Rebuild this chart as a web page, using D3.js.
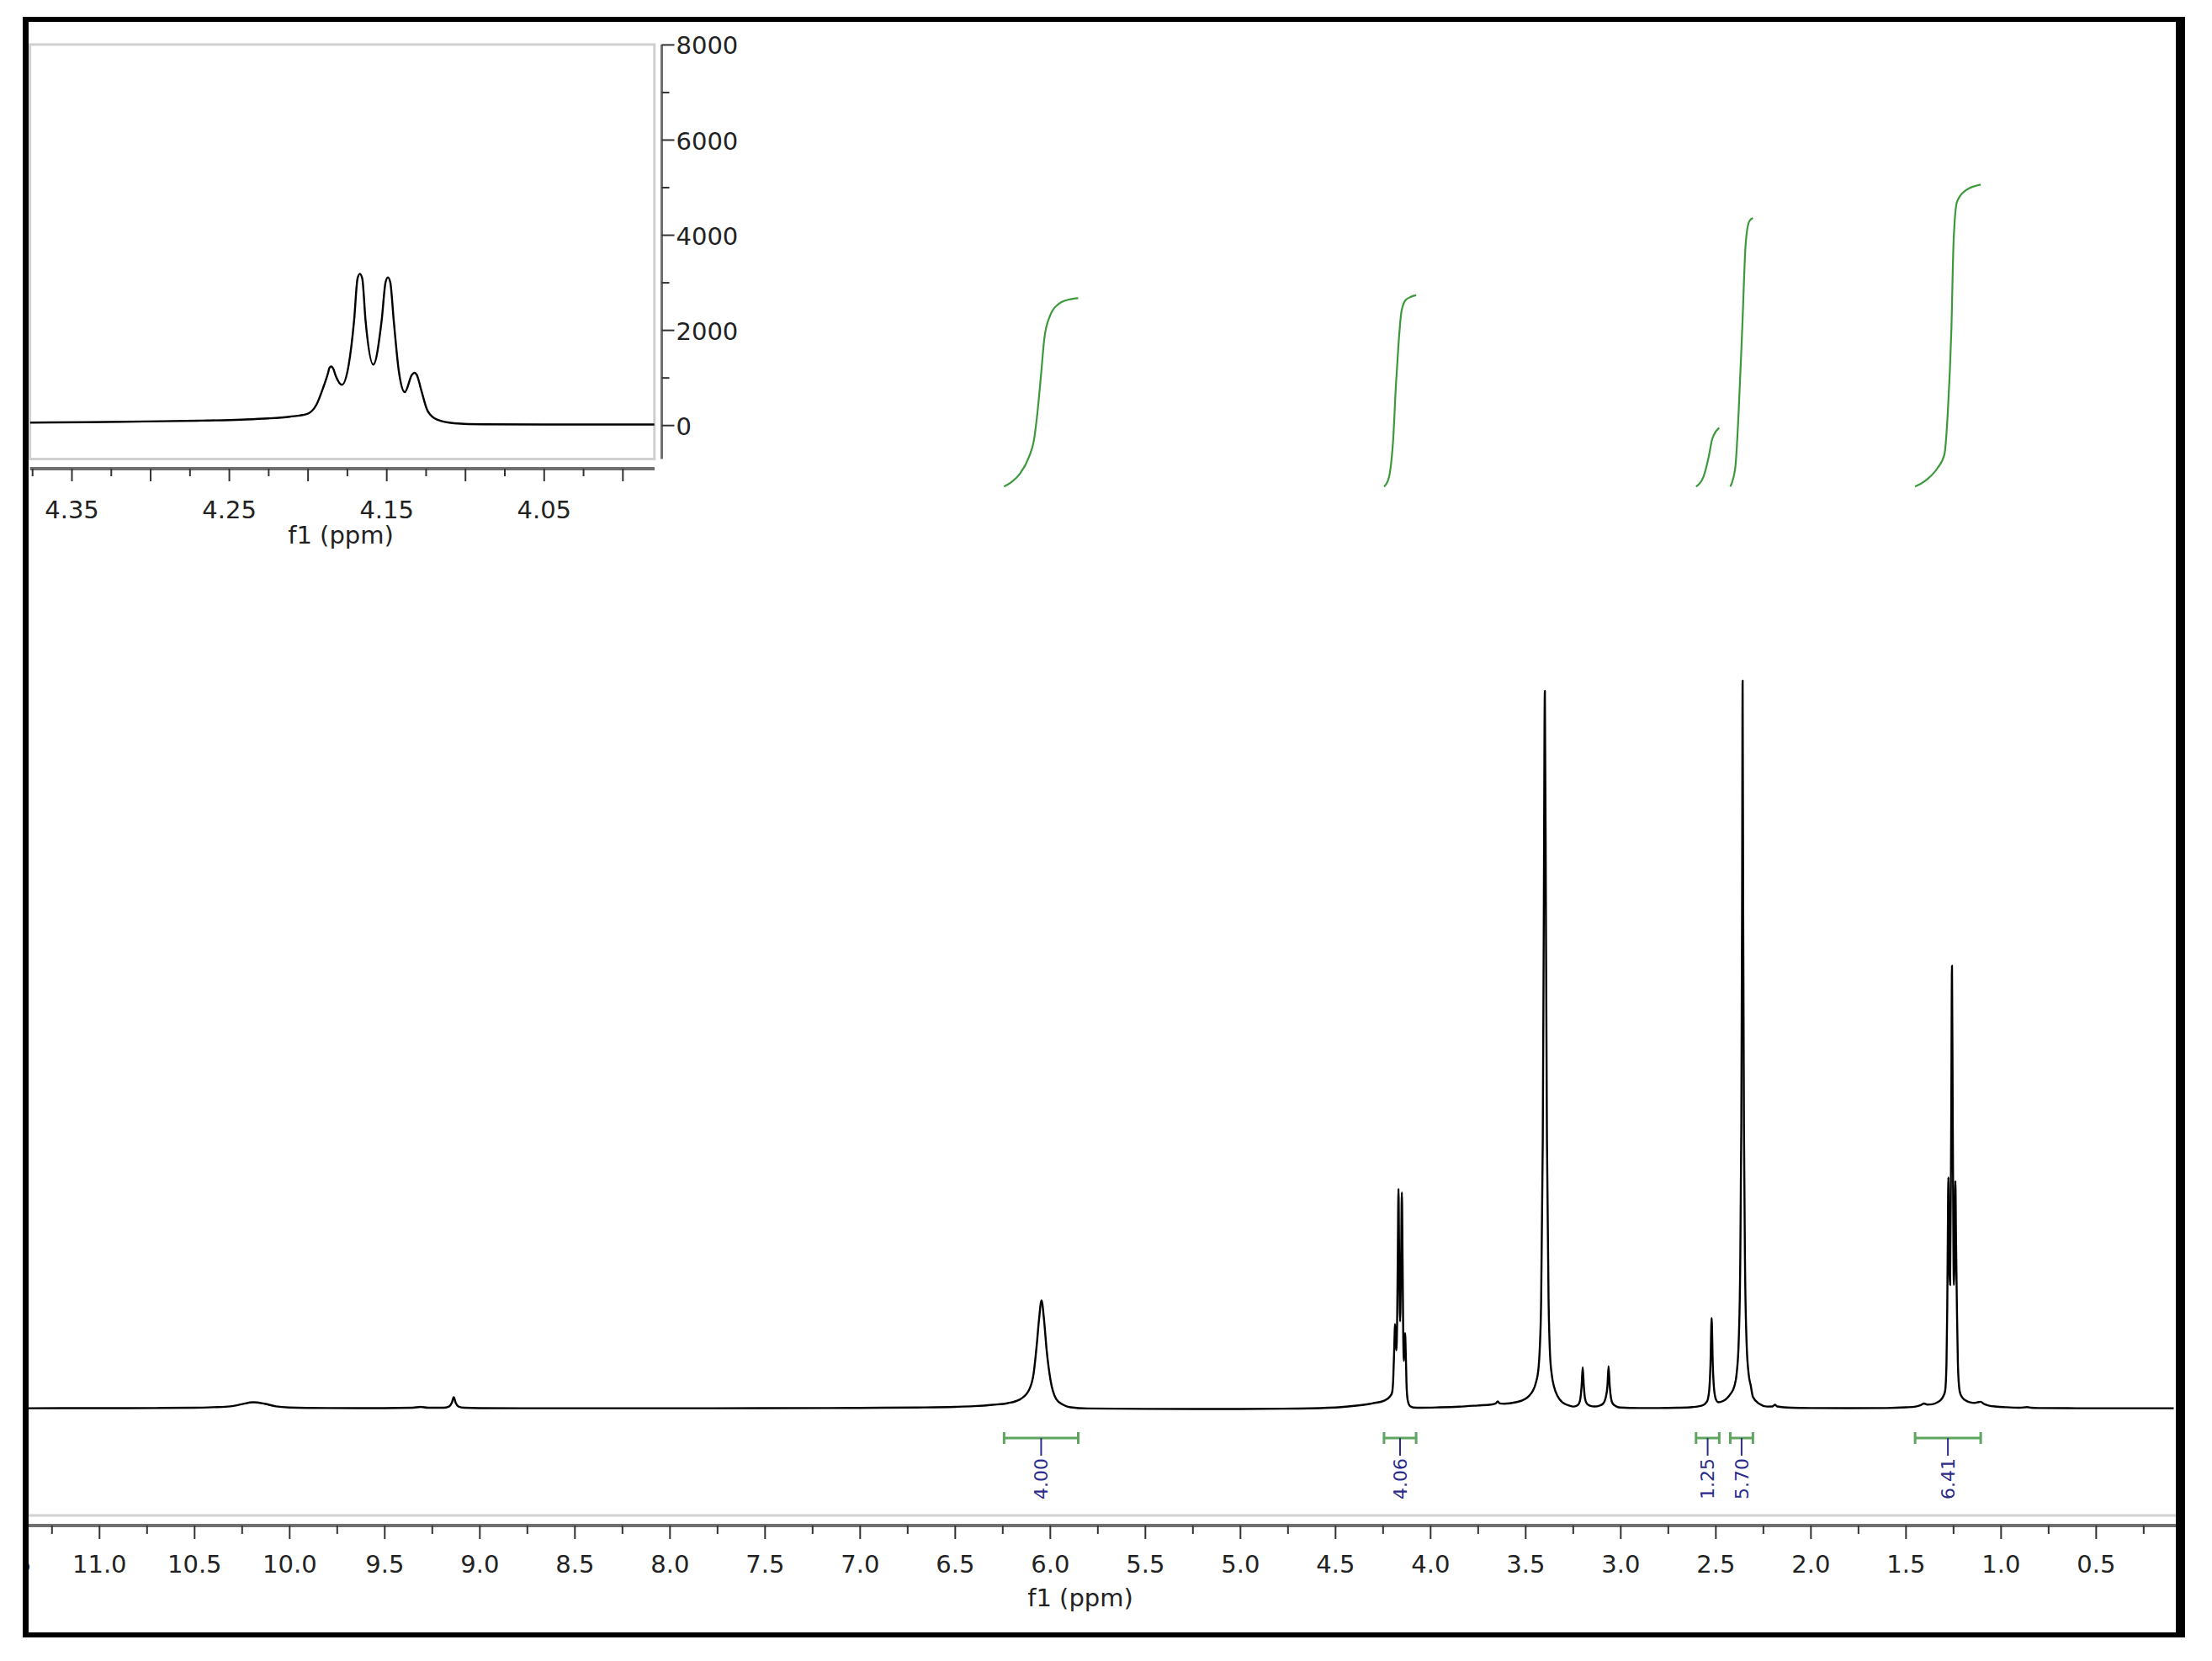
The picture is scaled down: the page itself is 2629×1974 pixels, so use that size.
<!DOCTYPE html>
<html><head><meta charset="utf-8">
<script src="https://cdn.jsdelivr.net/npm/d3@7"></script>
<style>
html,body{margin:0;padding:0;background:#fff;}
svg{display:block;}
</style></head><body>
<svg id="chart" width="2629" height="1974"></svg>
<script>
// ---------------- DATA ----------------
// Main 1H spectrum: [ppm, intensity]
const mainSpectrum = [
[11.38,5],[11.0,6],[10.7,8],[10.5,12],[10.40,20],[10.31,32],[10.25,62],[10.19,92],[10.13,70],[10.07,32],[10.0,16],
[9.8,8],[9.5,6],[9.35,12],[9.31,24],[9.27,12],[9.19,12],[9.16,30],[9.145,85],[9.135,165],[9.125,85],[9.11,30],[9.08,12],[9.0,6],
[8.5,4],[8.0,4],[7.5,6],[7.0,10],[6.7,16],[6.5,25],[6.40,35],[6.30,55],[6.22,80],[6.16,130],[6.11,270],[6.085,520],
[6.069,930],[6.057,1300],[6.044,1575],[6.031,1300],[6.017,850],[5.997,420],[5.967,140],[5.93,55],[5.89,18],[5.80,2],
[5.5,-5],[5.0,-6],[4.7,0],[4.5,15],[4.40,40],[4.32,68],
[4.30,78],[4.242,115],[4.211,177],[4.2006,231],[4.1945,423],[4.1899,808],[4.187,1100],[4.185,1233],[4.1822,1039],
[4.1782,847],[4.1739,1270],[4.1705,2195],[4.1668,3200],[4.1632,2195],[4.1583,1270],[4.153,2195],[4.149,3150],
[4.1453,2195],[4.142,1117],[4.1383,693],[4.1322,1101],[4.1278,732],[4.1239,307],[4.1178,115],[4.107,39],[4.0886,16],
[4.05,12],[3.95,18],[3.85,28],[3.75,45],[3.68,58],[3.655,75],[3.645,105],[3.635,75],[3.61,70],[3.55,92],[3.50,140],
[3.48,186],[3.46,260],[3.445,368],[3.43,600],[3.424,860],[3.417,1500],[3.408,3900],[3.403,6900],[3.397,10450],
[3.391,6900],[3.386,3900],[3.377,1500],[3.370,800],[3.360,480],[3.35,331],[3.33,180],[3.306,92],[3.27,45],[3.247,29],
[3.23,40],[3.218,70],[3.210,150],[3.204,320],[3.198,600],[3.192,320],[3.186,150],[3.176,70],[3.16,42],[3.135,30],
[3.11,42],[3.09,75],[3.078,150],[3.068,330],[3.062,616],[3.056,330],[3.049,150],[3.040,70],[3.02,30],[3.0,15],
[2.9,8],[2.8,8],[2.7,12],[2.62,22],[2.57,45],[2.545,100],[2.533,260],[2.526,650],[2.520,1320],[2.514,650],[2.507,280],
[2.497,130],[2.485,92],[2.46,110],[2.44,150],[2.42,215],[2.40,330],[2.388,520],[2.378,950],[2.370,2000],[2.364,4100],
[2.360,7200],[2.357,10600],[2.354,7200],[2.350,4100],[2.344,2000],[2.336,950],[2.326,520],[2.314,330],[2.303,172],
[2.27,70],[2.229,29],[2.20,30],[2.187,55],[2.175,30],[2.10,12],[2.0,8],[1.8,6],[1.6,8],[1.50,18],[1.447,29],
[1.42,50],[1.403,73],[1.385,58],[1.359,63],[1.33,95],[1.315,125],[1.300,190],[1.292,260],[1.285,657],[1.281,1455],
[1.278,2500],[1.275,3368],[1.272,2500],[1.266,1800],[1.260,4200],[1.256,6450],[1.252,4200],[1.246,1800],[1.241,2500],
[1.238,3314],[1.235,2500],[1.230,1455],[1.225,657],[1.218,300],[1.211,206],[1.195,140],[1.182,115],[1.16,90],
[1.138,83],[1.115,95],[1.105,99],[1.09,70],[1.064,45],[1.02,28],[0.976,20],[0.90,12],[0.86,22],[0.84,12],[0.8,8],
[0.6,5],[0.3,4],[0.09,4]
];

// Inset (4.38 - 3.98 ppm) spectrum: [ppm, intensity]
const insetSpectrum = [
[4.3764,53],[4.34,62],[4.3034,77],[4.27,92],[4.242,115],[4.225,140],[4.2114,177],[4.2006,231],[4.1945,423],
[4.1899,808],[4.1870,1100],[4.1862,1200],[4.185,1233],[4.1838,1190],[4.1822,1039],[4.1782,847],[4.1739,1270],
[4.1705,2195],[4.1683,3080],[4.1668,3181],[4.1653,3080],[4.1632,2195],[4.1583,1270],[4.1530,2195],[4.1505,3000],
[4.149,3105],[4.1475,3000],[4.1453,2195],[4.142,1117],[4.1383,693],[4.1337,1060],[4.1322,1101],[4.1307,1060],
[4.1278,732],[4.1239,307],[4.1178,115],[4.107,39],[4.0886,16],[4.05,12],[3.9797,12]
];

// Integral curves: [ppm, cumulative integral]
const integral1 = [[6.241,0],[6.20,0.10],[6.158,0.27],[6.11,0.63],[6.084,0.98],[6.066,1.55],[6.047,2.35],[6.029,3.15],[6.00,3.62],[5.956,3.87],[5.90,3.97],[5.851,4.00]];
const integral2 = [[4.243,0],[4.225,0.10],[4.213,0.27],[4.195,0.98],[4.180,2.17],[4.166,3.06],[4.151,3.72],[4.129,3.96],[4.100,4.03],[4.074,4.06]];
const integral3 = [[2.602,0],[2.563,0.21],[2.533,0.68],[2.519,0.98],[2.508,1.10],[2.480,1.25]];
const integral4 = [[2.422,0],[2.396,0.39],[2.378,1.58],[2.359,3.36],[2.341,5.15],[2.322,5.63],[2.303,5.70]];
const integral5 = [[1.450,0],[1.388,0.15],[1.333,0.39],[1.296,0.68],[1.278,1.58],[1.259,3.36],[1.248,5.15],[1.230,6.04],[1.186,6.28],[1.105,6.41]];

// Integral region labels
const integralLabels = ["4.00","4.06","1.25","5.70","6.41"];
const integralFrom = [6.241, 4.243, 2.602, 2.422, 1.450];
const integralTo   = [5.851, 4.074, 2.480, 2.303, 1.105];

// Tick labels
const mainTickLabels = ["11.5","11.0","10.5","10.0","9.5","9.0","8.5","8.0","7.5","7.0","6.5","6.0","5.5","5.0","4.5","4.0","3.5","3.0","2.5","2.0","1.5","1.0","0.5"];
const insetXTickLabels = ["4.35","4.25","4.15","4.05"];
const insetYTickLabels = ["0","2000","4000","6000","8000"];
const axisTitle = "f1 (ppm)";

// ---------------- DRAWING ----------------
const W = 2629, H = 1974;
const FONT = "'DejaVu Sans', Verdana, sans-serif";
const svg = d3.select("#chart");
svg.append("rect").attr("width", W).attr("height", H).attr("fill", "#fff");

const defs = svg.append("defs");
defs.append("clipPath").attr("id", "clipMain").append("rect")
  .attr("x", 34).attr("y", 26).attr("width", 2552).attr("height", 1914);
defs.append("clipPath").attr("id", "clipInset").append("rect")
  .attr("x", 35.6).attr("y", 52.9).attr("width", 742.2).attr("height", 492.6);

// main scales
const x = d3.scaleLinear().domain([11.38, 0.09]).range([31.9, 2583.5]);
const y = d3.scaleLinear().domain([0, 20000]).range([1674, 1674 - 20000 * 0.0816]);
const yInt = d3.scaleLinear().domain([0, 8]).range([578.3, 578.3 - 8 * 56]);

// main plot box bottom line
svg.append("line").attr("x1", 34).attr("x2", 2586).attr("y1", 1801).attr("y2", 1801)
  .attr("stroke", "#d2d2d2").attr("stroke-width", 3);

// main spectrum
const gMain = svg.append("g").attr("clip-path", "url(#clipMain)");
gMain.append("path").datum(mainSpectrum)
  .attr("d", d3.line().x(d => x(d[0])).y(d => y(d[1])).curve(d3.curveMonotoneX))
  .attr("fill", "none").attr("stroke", "#000").attr("stroke-width", 2.4).attr("stroke-linejoin", "round");

// integral curves
const intLine = d3.line().x(d => x(d[0])).y(d => yInt(d[1])).curve(d3.curveMonotoneX);
[integral1, integral2, integral3, integral4, integral5].forEach(arr => {
  gMain.append("path").datum(arr).attr("d", intLine)
    .attr("fill", "none").attr("stroke", "#3c9a3c").attr("stroke-width", 2.2);
});

// integral bars + labels
const barY = 1709;
integralLabels.forEach((lab, i) => {
  const x1 = x(integralFrom[i]), x2 = x(integralTo[i]);
  const cx = x((integralFrom[i] + integralTo[i]) / 2);
  const g = gMain.append("g");
  g.append("line").attr("x1", x1).attr("x2", x2).attr("y1", barY).attr("y2", barY)
    .attr("stroke", "#5fa55f").attr("stroke-width", 3);
  [x1, x2].forEach(xx => g.append("line").attr("x1", xx).attr("x2", xx)
    .attr("y1", barY - 7).attr("y2", barY + 7).attr("stroke", "#5fa55f").attr("stroke-width", 3));
  g.append("line").attr("x1", cx).attr("x2", cx).attr("y1", barY).attr("y2", barY + 21)
    .attr("stroke", "#2c2c8c").attr("stroke-width", 2);
  g.append("text").text(lab)
    .attr("transform", `translate(${cx},${barY + 24}) rotate(-90)`)
    .attr("text-anchor", "end").attr("dy", "0.36em")
    .attr("font-family", FONT).attr("font-size", 22).attr("fill", "#2c2c8c");
});

// main x axis
const axisY = 1813;
const gAx = svg.append("g").attr("clip-path", "url(#clipMain)");
gAx.append("line").attr("x1", 32).attr("x2", 2586).attr("y1", axisY).attr("y2", axisY)
  .attr("stroke", "#6f6f6f").attr("stroke-width", 4);
const majorVals = mainTickLabels.map(Number);
const minorVals = majorVals.map(v => v - 0.25).filter(v => v > 0.09 && v < 11.38);
gAx.append("g").attr("transform", `translate(0,${axisY})`)
  .call(d3.axisBottom(x).tickValues(minorVals).tickSize(10).tickFormat(""))
  .call(g => g.select(".domain").remove())
  .call(g => g.selectAll(".tick line").attr("stroke", "#333").attr("stroke-width", 2));
gAx.append("g").attr("transform", `translate(0,${axisY})`)
  .call(d3.axisBottom(x).tickValues(majorVals).tickSize(16).tickFormat((d, i) => mainTickLabels[i]))
  .call(g => g.select(".domain").remove())
  .call(g => g.selectAll(".tick line").attr("stroke", "#333").attr("stroke-width", 2))
  .call(g => g.selectAll(".tick text").attr("y", 56).attr("dy", 0)
    .attr("font-family", FONT).attr("font-size", 29).attr("fill", "#222"));
svg.append("text").text(axisTitle).attr("x", 1284).attr("y", 1909)
  .attr("text-anchor", "middle").attr("font-family", FONT).attr("font-size", 29).attr("fill", "#222");

// ---------------- INSET ----------------
const xi = d3.scaleLinear().domain([4.3764, 3.9797]).range([35.6, 777.8]);
const yi = d3.scaleLinear().domain([0, 8000]).range([505.2, 52.9]);

svg.append("rect").attr("x", 35.6).attr("y", 52.9).attr("width", 742.2).attr("height", 492.6)
  .attr("fill", "#fff").attr("stroke", "#cfcfcf").attr("stroke-width", 3);

svg.append("g").attr("clip-path", "url(#clipInset)")
  .append("path").datum(insetSpectrum)
  .attr("d", d3.line().x(d => xi(d[0])).y(d => yi(d[1])).curve(d3.curveMonotoneX))
  .attr("fill", "none").attr("stroke", "#000").attr("stroke-width", 2.4).attr("stroke-linejoin", "round");

// inset x axis
const iAxY = 557;
svg.append("line").attr("x1", 35.6).attr("x2", 778).attr("y1", iAxY).attr("y2", iAxY)
  .attr("stroke", "#6f6f6f").attr("stroke-width", 4);
const insetX = insetXTickLabels.map(Number);
const insetXLong = [4.35, 4.30, 4.25, 4.20, 4.15, 4.10, 4.05, 4.00];
const insetXShort = insetXLong.map(v => v + 0.025);
svg.append("g").attr("transform", `translate(0,${iAxY})`)
  .call(d3.axisBottom(xi).tickValues(insetXShort).tickSize(9).tickFormat(""))
  .call(g => g.select(".domain").remove())
  .call(g => g.selectAll(".tick line").attr("stroke", "#333").attr("stroke-width", 2));
svg.append("g").attr("transform", `translate(0,${iAxY})`)
  .call(d3.axisBottom(xi).tickValues(insetXLong).tickSize(15).tickFormat(""))
  .call(g => g.select(".domain").remove())
  .call(g => g.selectAll(".tick line").attr("stroke", "#333").attr("stroke-width", 2));
svg.append("g").attr("transform", `translate(0,${iAxY})`)
  .call(d3.axisBottom(xi).tickValues(insetX).tickSize(0).tickFormat((d, i) => insetXTickLabels[i]))
  .call(g => g.select(".domain").remove())
  .call(g => g.selectAll(".tick text").attr("y", 59).attr("dy", 0)
    .attr("font-family", FONT).attr("font-size", 29).attr("fill", "#222"));
svg.append("text").text(axisTitle).attr("x", 405).attr("y", 646)
  .attr("text-anchor", "middle").attr("font-family", FONT).attr("font-size", 29).attr("fill", "#222");

// inset y axis
const iAxX = 786.5;
svg.append("line").attr("x1", iAxX).attr("x2", iAxX).attr("y1", 52.9).attr("y2", 545.5)
  .attr("stroke", "#6f6f6f").attr("stroke-width", 3);
const insetY = insetYTickLabels.map(Number);
svg.append("g").attr("transform", `translate(${iAxX},0)`)
  .call(d3.axisRight(yi).tickValues(insetY.slice(1).map(v => v - 1000)).tickSize(9).tickFormat(""))
  .call(g => g.select(".domain").remove())
  .call(g => g.selectAll(".tick line").attr("stroke", "#333").attr("stroke-width", 2));
svg.append("g").attr("transform", `translate(${iAxX},0)`)
  .call(d3.axisRight(yi).tickValues(insetY).tickSize(15).tickFormat((d, i) => insetYTickLabels[i]))
  .call(g => g.select(".domain").remove())
  .call(g => g.selectAll(".tick line").attr("stroke", "#333").attr("stroke-width", 2))
  .call(g => g.selectAll(".tick text").attr("x", 17).attr("dy", "0.38em")
    .attr("font-family", FONT).attr("font-size", 29).attr("fill", "#222"));

// ---------------- FRAME ----------------
const frame = svg.append("g").attr("fill", "#000");
frame.append("rect").attr("x", 27).attr("y", 20).attr("width", 2570).attr("height", 6);
frame.append("rect").attr("x", 27).attr("y", 1940).attr("width", 2570).attr("height", 6);
frame.append("rect").attr("x", 27).attr("y", 20).attr("width", 7).attr("height", 1926);
frame.append("rect").attr("x", 2586).attr("y", 20).attr("width", 11).attr("height", 1926);
</script>
</body></html>
